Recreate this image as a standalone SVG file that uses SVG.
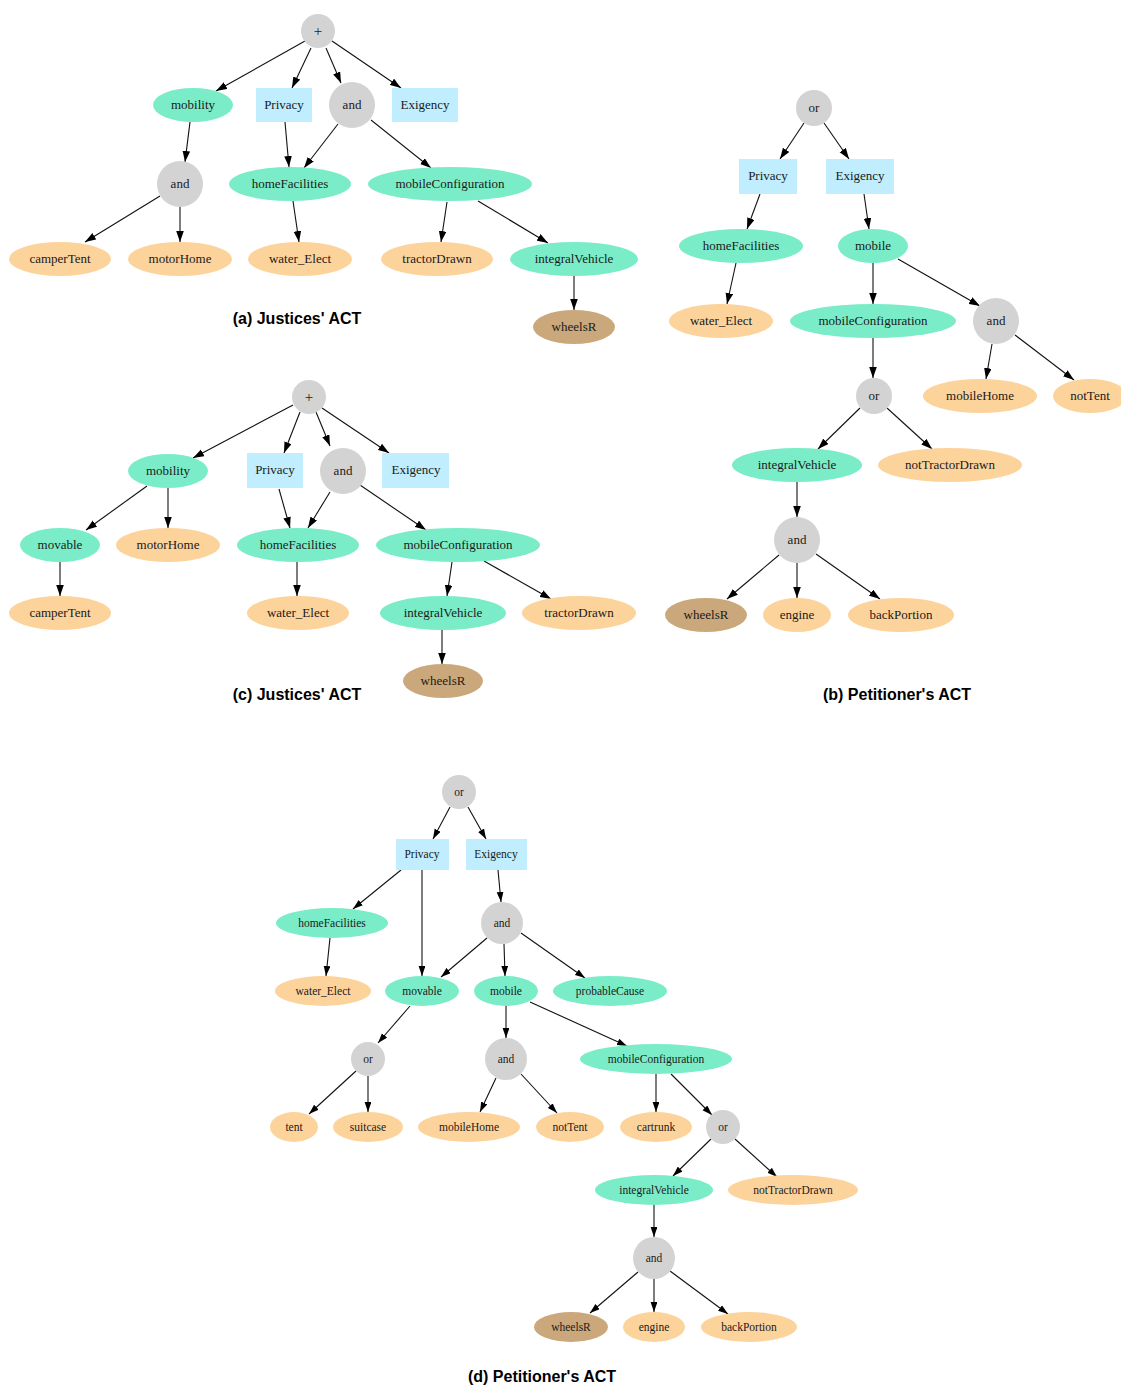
<svg xmlns="http://www.w3.org/2000/svg" width="1121" height="1386" viewBox="0 0 1121 1386">
<style>
  .op { fill: #d3d3d3; }
  .con { fill: #7aedc8; }
  .leaf { fill: #fdd39c; }
  .wh { fill: #cba87b; }
  .box { fill: #c0eefe; }
  text { font-family: "Liberation Serif", "Times New Roman", serif; fill: #1a1a1a; text-anchor: middle; }
  .t { font-size: 13px; }
  .s { font-size: 11.5px; }
  .plus { font-size: 15px; }
  .cap { font-family: "Liberation Sans", Arial, sans-serif; font-weight: bold; font-size: 16px; fill: #000; }
  .e line { stroke: #111; stroke-width: 1.1; fill: none; }
  .ea line { marker-end: url(#ah); }
  .ed line { marker-end: url(#ahs); }
</style>
<defs>
  <marker id="ah" markerUnits="userSpaceOnUse" markerWidth="11" markerHeight="8" refX="11" refY="3.8" orient="auto">
    <path d="M0,0 L11,3.8 L0,7.6 z" fill="#000"/>
  </marker>
  <marker id="ahs" markerUnits="userSpaceOnUse" markerWidth="10" markerHeight="7" refX="10" refY="3.4" orient="auto">
    <path d="M0,0 L10,3.4 L0,6.8 z" fill="#000"/>
  </marker>
</defs>
<rect width="1121" height="1386" fill="#fff"/>

<!-- connectors -->
<g id="connectors" class="e">
  <!-- panel a -->
  <g class="ea">
    <line x1="305" y1="41" x2="216" y2="91"/>
    <line x1="311" y1="48" x2="292" y2="88"/>
    <line x1="326" y1="48" x2="341" y2="83"/>
    <line x1="332" y1="41" x2="401" y2="88"/>
    <line x1="190" y1="122" x2="185" y2="162"/>
    <line x1="285" y1="122" x2="289" y2="167"/>
    <line x1="338" y1="124" x2="304" y2="168"/>
    <line x1="371" y1="120" x2="431" y2="168"/>
    <line x1="160" y1="196" x2="85" y2="242"/>
    <line x1="180" y1="207" x2="180" y2="242"/>
    <line x1="293" y1="201" x2="299" y2="242"/>
    <line x1="447" y1="202" x2="441" y2="242"/>
    <line x1="478" y1="201" x2="548" y2="243"/>
    <line x1="574" y1="276" x2="574" y2="310"/>
  </g>
  <!-- panel b -->
  <g class="ea">
    <line x1="804" y1="123" x2="780" y2="159"/>
    <line x1="824" y1="123" x2="849" y2="159"/>
    <line x1="760" y1="194" x2="747" y2="229"/>
    <line x1="864" y1="194" x2="869" y2="229"/>
    <line x1="736" y1="263" x2="727" y2="304"/>
    <line x1="873" y1="263" x2="873" y2="304"/>
    <line x1="898" y1="259" x2="980" y2="306"/>
    <line x1="873" y1="338" x2="873" y2="378"/>
    <line x1="992" y1="344" x2="986" y2="379"/>
    <line x1="1015" y1="335" x2="1074" y2="380"/>
    <line x1="860" y1="408" x2="818" y2="449"/>
    <line x1="887" y1="408" x2="932" y2="449"/>
    <line x1="797" y1="482" x2="797" y2="517"/>
    <line x1="779" y1="555" x2="727" y2="599"/>
    <line x1="797" y1="563" x2="797" y2="598"/>
    <line x1="816" y1="554" x2="880" y2="599"/>
  </g>
  <!-- panel c -->
  <g class="ea">
    <line x1="293" y1="405" x2="193" y2="458"/>
    <line x1="300" y1="412" x2="284" y2="453"/>
    <line x1="316" y1="412" x2="330" y2="446"/>
    <line x1="322" y1="408" x2="389" y2="453"/>
    <line x1="147" y1="486" x2="86" y2="530"/>
    <line x1="168" y1="488" x2="168" y2="528"/>
    <line x1="279" y1="489" x2="290" y2="528"/>
    <line x1="330" y1="492" x2="308" y2="528"/>
    <line x1="360" y1="485" x2="426" y2="530"/>
    <line x1="60" y1="562" x2="60" y2="596"/>
    <line x1="297" y1="562" x2="297" y2="596"/>
    <line x1="452" y1="562" x2="447" y2="596"/>
    <line x1="484" y1="561" x2="551" y2="599"/>
    <line x1="442" y1="630" x2="442" y2="664"/>
  </g>
  <!-- panel d -->
  <g class="ed">
    <line x1="450" y1="807" x2="433" y2="839"/>
    <line x1="468" y1="807" x2="486" y2="839"/>
    <line x1="401" y1="870" x2="353" y2="909"/>
    <line x1="422" y1="870" x2="422" y2="976"/>
    <line x1="498" y1="870" x2="501" y2="902"/>
    <line x1="330" y1="938" x2="326" y2="976"/>
    <line x1="487" y1="938" x2="441" y2="977"/>
    <line x1="504" y1="944" x2="505" y2="976"/>
    <line x1="521" y1="933" x2="585" y2="978"/>
    <line x1="410" y1="1006" x2="378" y2="1043"/>
    <line x1="506" y1="1006" x2="506" y2="1038"/>
    <line x1="530" y1="1002" x2="627" y2="1046"/>
    <line x1="356" y1="1071" x2="309" y2="1114"/>
    <line x1="368" y1="1076" x2="368" y2="1112"/>
    <line x1="496" y1="1078" x2="480" y2="1112"/>
    <line x1="521" y1="1074" x2="557" y2="1113"/>
    <line x1="656" y1="1074" x2="656" y2="1112"/>
    <line x1="671" y1="1074" x2="712" y2="1115"/>
    <line x1="711" y1="1139" x2="673" y2="1176"/>
    <line x1="735" y1="1139" x2="777" y2="1177"/>
    <line x1="654" y1="1205" x2="654" y2="1237"/>
    <line x1="638" y1="1272" x2="590" y2="1313"/>
    <line x1="654" y1="1279" x2="654" y2="1312"/>
    <line x1="670" y1="1271" x2="728" y2="1314"/>
  </g>
</g>

<!-- panel a nodes -->
<g id="a_plus"><circle class="op" cx="318" cy="31" r="17"/><text class="plus" x="318" y="36">+</text></g>
<g id="a_mobility"><ellipse class="con" cx="193" cy="105" rx="40" ry="17"/><text class="t" x="193" y="109">mobility</text></g>
<g id="a_privacy"><rect class="box" x="256" y="88" width="56" height="34"/><text class="t" x="284" y="109">Privacy</text></g>
<g id="a_and1"><circle class="op" cx="352" cy="105" r="23"/><text class="t" x="352" y="109">and</text></g>
<g id="a_exigency"><rect class="box" x="392" y="88" width="66" height="34"/><text class="t" x="425" y="109">Exigency</text></g>
<g id="a_and2"><circle class="op" cx="180" cy="184" r="23"/><text class="t" x="180" y="188">and</text></g>
<g id="a_homeFacilities"><ellipse class="con" cx="290" cy="184" rx="61" ry="17"/><text class="t" x="290" y="188">homeFacilities</text></g>
<g id="a_mobileConfiguration"><ellipse class="con" cx="450" cy="184" rx="82" ry="17"/><text class="t" x="450" y="188">mobileConfiguration</text></g>
<g id="a_camperTent"><ellipse class="leaf" cx="60" cy="259" rx="51" ry="17"/><text class="t" x="60" y="263">camperTent</text></g>
<g id="a_motorHome"><ellipse class="leaf" cx="180" cy="259" rx="52" ry="17"/><text class="t" x="180" y="263">motorHome</text></g>
<g id="a_water_Elect"><ellipse class="leaf" cx="300" cy="259" rx="52" ry="17"/><text class="t" x="300" y="263">water_Elect</text></g>
<g id="a_tractorDrawn"><ellipse class="leaf" cx="437" cy="259" rx="56" ry="17"/><text class="t" x="437" y="263">tractorDrawn</text></g>
<g id="a_integralVehicle"><ellipse class="con" cx="574" cy="259" rx="64" ry="17"/><text class="t" x="574" y="263">integralVehicle</text></g>
<g id="a_wheelsR"><ellipse class="wh" cx="574" cy="327" rx="41" ry="17"/><text class="t" x="574" y="331">wheelsR</text></g>
<text class="cap" x="297" y="324">(a) Justices' ACT</text>

<!-- panel b nodes -->
<g id="b_or"><circle class="op" cx="814" cy="108" r="18"/><text class="t" x="814" y="112">or</text></g>
<g id="b_privacy"><rect class="box" x="739" y="159" width="58" height="35"/><text class="t" x="768" y="180">Privacy</text></g>
<g id="b_exigency"><rect class="box" x="826" y="159" width="68" height="35"/><text class="t" x="860" y="180">Exigency</text></g>
<g id="b_homeFacilities"><ellipse class="con" cx="741" cy="246" rx="62" ry="17"/><text class="t" x="741" y="250">homeFacilities</text></g>
<g id="b_mobile"><ellipse class="con" cx="873" cy="246" rx="35" ry="17"/><text class="t" x="873" y="250">mobile</text></g>
<g id="b_water_Elect"><ellipse class="leaf" cx="721" cy="321" rx="52" ry="17"/><text class="t" x="721" y="325">water_Elect</text></g>
<g id="b_mobileConfiguration"><ellipse class="con" cx="873" cy="321" rx="83" ry="17"/><text class="t" x="873" y="325">mobileConfiguration</text></g>
<g id="b_and1"><circle class="op" cx="996" cy="321" r="23"/><text class="t" x="996" y="325">and</text></g>
<g id="b_or2"><circle class="op" cx="874" cy="396" r="18"/><text class="t" x="874" y="400">or</text></g>
<g id="b_mobileHome"><ellipse class="leaf" cx="980" cy="396" rx="57" ry="17"/><text class="t" x="980" y="400">mobileHome</text></g>
<g id="b_notTent"><ellipse class="leaf" cx="1090" cy="396" rx="37" ry="17"/><text class="t" x="1090" y="400">notTent</text></g>
<g id="b_integralVehicle"><ellipse class="con" cx="797" cy="465" rx="65" ry="17"/><text class="t" x="797" y="469">integralVehicle</text></g>
<g id="b_notTractorDrawn"><ellipse class="leaf" cx="950" cy="465" rx="72" ry="17"/><text class="t" x="950" y="469">notTractorDrawn</text></g>
<g id="b_and2"><circle class="op" cx="797" cy="540" r="23"/><text class="t" x="797" y="544">and</text></g>
<g id="b_wheelsR"><ellipse class="wh" cx="706" cy="615" rx="41" ry="17"/><text class="t" x="706" y="619">wheelsR</text></g>
<g id="b_engine"><ellipse class="leaf" cx="797" cy="615" rx="34" ry="17"/><text class="t" x="797" y="619">engine</text></g>
<g id="b_backPortion"><ellipse class="leaf" cx="901" cy="615" rx="53" ry="17"/><text class="t" x="901" y="619">backPortion</text></g>
<text class="cap" x="897" y="700">(b) Petitioner's ACT</text>

<!-- panel c nodes -->
<g id="c_plus"><circle class="op" cx="309" cy="397" r="17"/><text class="plus" x="309" y="402">+</text></g>
<g id="c_mobility"><ellipse class="con" cx="168" cy="471" rx="40" ry="17"/><text class="t" x="168" y="475">mobility</text></g>
<g id="c_privacy"><rect class="box" x="247" y="453" width="56" height="35"/><text class="t" x="275" y="474">Privacy</text></g>
<g id="c_and"><circle class="op" cx="343" cy="471" r="23"/><text class="t" x="343" y="475">and</text></g>
<g id="c_exigency"><rect class="box" x="382" y="453" width="67" height="35"/><text class="t" x="416" y="474">Exigency</text></g>
<g id="c_movable"><ellipse class="con" cx="60" cy="545" rx="40" ry="17"/><text class="t" x="60" y="549">movable</text></g>
<g id="c_motorHome"><ellipse class="leaf" cx="168" cy="545" rx="52" ry="17"/><text class="t" x="168" y="549">motorHome</text></g>
<g id="c_homeFacilities"><ellipse class="con" cx="298" cy="545" rx="61" ry="17"/><text class="t" x="298" y="549">homeFacilities</text></g>
<g id="c_mobileConfiguration"><ellipse class="con" cx="458" cy="545" rx="82" ry="17"/><text class="t" x="458" y="549">mobileConfiguration</text></g>
<g id="c_camperTent"><ellipse class="leaf" cx="60" cy="613" rx="51" ry="17"/><text class="t" x="60" y="617">camperTent</text></g>
<g id="c_water_Elect"><ellipse class="leaf" cx="298" cy="613" rx="51" ry="17"/><text class="t" x="298" y="617">water_Elect</text></g>
<g id="c_integralVehicle"><ellipse class="con" cx="443" cy="613" rx="63" ry="17"/><text class="t" x="443" y="617">integralVehicle</text></g>
<g id="c_tractorDrawn"><ellipse class="leaf" cx="579" cy="613" rx="57" ry="17"/><text class="t" x="579" y="617">tractorDrawn</text></g>
<g id="c_wheelsR"><ellipse class="wh" cx="443" cy="681" rx="40" ry="17"/><text class="t" x="443" y="685">wheelsR</text></g>
<text class="cap" x="297" y="700">(c) Justices' ACT</text>

<!-- panel d nodes -->
<g id="d_or"><circle class="op" cx="459" cy="792" r="17"/><text class="s" x="459" y="796">or</text></g>
<g id="d_privacy"><rect class="box" x="396" y="839" width="53" height="31"/><text class="s" x="422" y="858">Privacy</text></g>
<g id="d_exigency"><rect class="box" x="466" y="839" width="61" height="31"/><text class="s" x="496" y="858">Exigency</text></g>
<g id="d_homeFacilities"><ellipse class="con" cx="332" cy="923" rx="56" ry="15"/><text class="s" x="332" y="927">homeFacilities</text></g>
<g id="d_and1"><circle class="op" cx="502" cy="923" r="21"/><text class="s" x="502" y="927">and</text></g>
<g id="d_water_Elect"><ellipse class="leaf" cx="323" cy="991" rx="48" ry="15"/><text class="s" x="323" y="995">water_Elect</text></g>
<g id="d_movable"><ellipse class="con" cx="422" cy="991" rx="37" ry="15"/><text class="s" x="422" y="995">movable</text></g>
<g id="d_mobile"><ellipse class="con" cx="506" cy="991" rx="32" ry="15"/><text class="s" x="506" y="995">mobile</text></g>
<g id="d_probableCause"><ellipse class="con" cx="610" cy="991" rx="57" ry="15"/><text class="s" x="610" y="995">probableCause</text></g>
<g id="d_or2"><circle class="op" cx="368" cy="1059" r="17"/><text class="s" x="368" y="1063">or</text></g>
<g id="d_and2"><circle class="op" cx="506" cy="1059" r="21"/><text class="s" x="506" y="1063">and</text></g>
<g id="d_mobileConfiguration"><ellipse class="con" cx="656" cy="1059" rx="76" ry="15"/><text class="s" x="656" y="1063">mobileConfiguration</text></g>
<g id="d_tent"><ellipse class="leaf" cx="294" cy="1127" rx="24" ry="15"/><text class="s" x="294" y="1131">tent</text></g>
<g id="d_suitcase"><ellipse class="leaf" cx="368" cy="1127" rx="35" ry="15"/><text class="s" x="368" y="1131">suitcase</text></g>
<g id="d_mobileHome"><ellipse class="leaf" cx="469" cy="1127" rx="51" ry="15"/><text class="s" x="469" y="1131">mobileHome</text></g>
<g id="d_notTent"><ellipse class="leaf" cx="570" cy="1127" rx="34" ry="15"/><text class="s" x="570" y="1131">notTent</text></g>
<g id="d_cartrunk"><ellipse class="leaf" cx="656" cy="1127" rx="36" ry="15"/><text class="s" x="656" y="1131">cartrunk</text></g>
<g id="d_or3"><circle class="op" cx="723" cy="1127" r="17"/><text class="s" x="723" y="1131">or</text></g>
<g id="d_integralVehicle"><ellipse class="con" cx="654" cy="1190" rx="59" ry="15"/><text class="s" x="654" y="1194">integralVehicle</text></g>
<g id="d_notTractorDrawn"><ellipse class="leaf" cx="793" cy="1190" rx="65" ry="15"/><text class="s" x="793" y="1194">notTractorDrawn</text></g>
<g id="d_and3"><circle class="op" cx="654" cy="1258" r="21"/><text class="s" x="654" y="1262">and</text></g>
<g id="d_wheelsR"><ellipse class="wh" cx="571" cy="1327" rx="37" ry="15"/><text class="s" x="571" y="1331">wheelsR</text></g>
<g id="d_engine"><ellipse class="leaf" cx="654" cy="1327" rx="31" ry="15"/><text class="s" x="654" y="1331">engine</text></g>
<g id="d_backPortion"><ellipse class="leaf" cx="749" cy="1327" rx="48" ry="15"/><text class="s" x="749" y="1331">backPortion</text></g>
<text class="cap" x="542" y="1382">(d) Petitioner's ACT</text>
</svg>
